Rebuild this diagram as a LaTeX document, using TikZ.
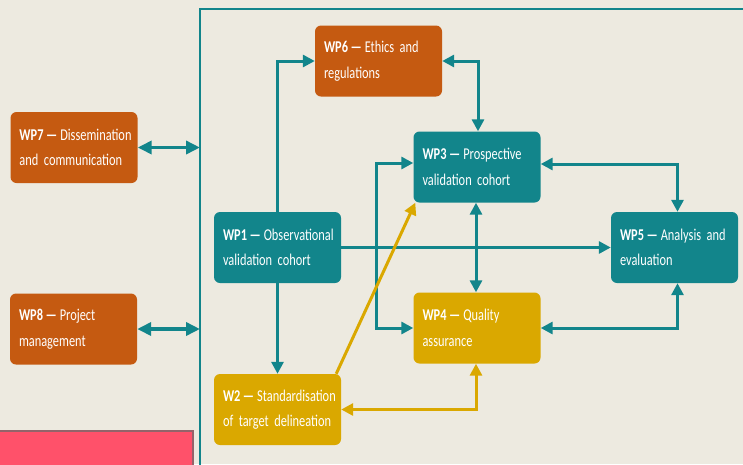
\documentclass[tikz,border=0pt]{standalone}
\usepackage{fontspec}
\usetikzlibrary{arrows.meta,calc}
\newfontfamily\wpfont{Carlito}[FakeStretch=0.75,WordSpace=0.7]
\definecolor{bgc}{RGB}{237,234,224}
\definecolor{tealc}{RGB}{18,133,139}
\definecolor{orangec}{RGB}{197,90,17}
\definecolor{yellowc}{RGB}{218,168,0}
\definecolor{pinkc}{RGB}{255,81,106}
\newcommand\wpt[3]{\mbox{\textbf{#1\hspace{2.5pt}—}\hspace{3pt}#2}\\\mbox{#3}}
\tikzset{
  wpbox/.style={rounded corners=6pt, minimum width=127pt, minimum height=71pt,
    text width=109pt, inner xsep=9pt, align=left, text=white, fill=#1,
    font=\wpfont\fontsize{16.5}{25.5}\selectfont},
  conn/.style={line width=3pt, draw=#1, -{Triangle[length=12pt,width=12pt]}},
  dconn/.style={line width=3pt, draw=#1, {Triangle[length=12pt,width=12pt]}-{Triangle[length=12pt,width=12pt]}},
  bigconn/.style={line width=3.5pt, draw=tealc, {Triangle[length=14pt,width=13pt]}-{Triangle[length=14pt,width=13pt]}},
}
\begin{document}
\begin{tikzpicture}[x=1pt,y=-1pt]
\fill[bgc] (0,0) rectangle (743,464);
\useasboundingbox (0,0) rectangle (743,464);
% frame
\draw[tealc, line width=2pt] (760,480) |- (200,9) -- (200,480);
\coordinate (fl) at (200,0);
% pink box
\draw[pinkc!40!black!70, line width=1.5pt, fill=pinkc] (-5,431) rectangle (193,475);
% boxes
\node[wpbox=orangec] (wp7) at (74,147.5) {\wpt{WP7}{Dissemination}{and communication}};
\node[wpbox=orangec] (wp8) at (73.5,329) {\wpt{WP8}{Project}{management}};
\node[wpbox=orangec] (wp6) at (378.5,61) {\wpt{WP6}{Ethics and}{regulations}};
\node[wpbox=tealc] (wp1) at (277.5,247.5) {\wpt{WP1}{Observational}{validation cohort}};
\node[wpbox=tealc] (wp3) at (477,167) {\wpt{WP3}{Prospective}{validation cohort}};
\node[wpbox=tealc] (wp5) at (674.5,247.5) {\wpt{WP5}{Analysis and}{evaluation}};
\node[wpbox=yellowc] (wp4) at (477,328) {\wpt{WP4}{Quality}{assurance}};
\node[wpbox=yellowc] (w2) at (277.5,409.5) {\wpt{W2}{Standardisation}{of target delineation}};
% outside links
\draw[bigconn] (wp7.east) -- (wp7.east -| fl);
\draw[bigconn] (wp8.east) -- (wp8.east -| fl);
% teal connectors
\draw[conn=tealc] (wp1.north) |- (wp6.west);
\draw[dconn=tealc] (wp6.east) -| ([xshift=1pt]wp3.north);
\draw[conn=tealc] (wp1.east) -- (wp5.west);
\draw[conn=tealc] (wp1.south) -- (w2.north);
\coordinate (bx) at (376,0);
\draw[dconn=tealc] ([yshift=4pt]wp3.west) -| (bx |- wp1.east) |- (wp4.west);
\draw[dconn=tealc] ([xshift=-1pt]wp3.south) -- ([xshift=-1pt]wp4.north);
\draw[dconn=tealc] ([yshift=3pt]wp3.east) -| ([xshift=3pt]wp5.north);
\draw[dconn=tealc] (wp4.east) -| ([xshift=3pt]wp5.south);
% yellow connectors
\draw[conn=yellowc] ([xshift=-5pt]w2.north east) -- ([xshift=2pt]wp3.south west);
\draw[dconn=yellowc] (w2.east) -| ([xshift=-1pt]wp4.south);
\end{tikzpicture}
\end{document}
